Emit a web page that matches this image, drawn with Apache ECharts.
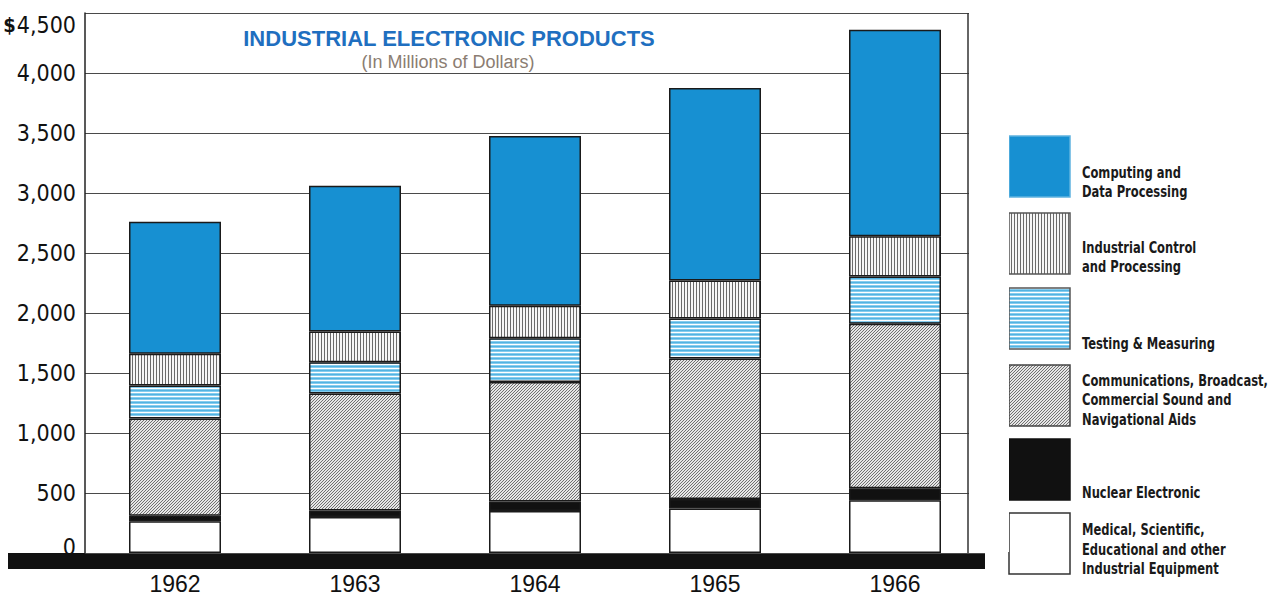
<!DOCTYPE html>
<html><head><meta charset="utf-8">
<script src="https://cdn.jsdelivr.net/npm/echarts@6/dist/echarts.min.js"></script>
<style>html,body{margin:0;padding:0;background:#fff}#c{width:1281px;height:598px}</style>
</head><body><div id="c"></div>
<script>
// ---- data (millions of dollars) ----
const years = ['1962', '1963', '1964', '1965', '1966'];
const medical = [265, 300, 350, 370, 440];
const nuclear = [45, 55, 80, 80, 100];
const communications = [810, 975, 995, 1170, 1370];
const testing = [275, 260, 365, 335, 395];
const industrialControl = [265, 255, 270, 315, 335];
const computing = [1100, 1215, 1415, 1605, 1720];
const yTicks = [0, 500, 1000, 1500, 2000, 2500, 3000, 3500, 4000, 4500];
const legendLabels = {
  computing: 'Computing and\nData Processing',
  industrial: 'Industrial Control\nand Processing',
  testing: 'Testing & Measuring',
  comm: 'Communications, Broadcast,\nCommercial Sound and\nNavigational Aids',
  nuclear: 'Nuclear Electronic',
  medical: 'Medical, Scientific,\nEducational and other\nIndustrial Equipment'
};

// ---- patterns ----
function pat(w, h, bg, pixels) {
  const c = document.createElement('canvas');
  c.width = w; c.height = h;
  const g = c.getContext('2d');
  g.fillStyle = bg; g.fillRect(0, 0, w, h);
  pixels.forEach(p => { g.fillStyle = p[2]; g.fillRect(p[0], p[1], 1, 1); });
  return { image: c, repeat: 'repeat', imageWidth: w, imageHeight: h };
}
const BLUE = '#1790d2';
const pVertical = pat(3, 1, '#f6f6f6', [[0, 0, '#6a6a6a']]);
const pHoriz = pat(1, 4, '#86cdee', [[0, 0, '#ffffff'], [0, 2, '#52b3e2']]);
const pDiag = pat(3, 3, '#e6e6e6', [[2, 0, '#707070'], [1, 1, '#707070'], [0, 2, '#707070']]);

const NARROW = "'DejaVu Sans Condensed','Liberation Sans Narrow',sans-serif";

const segs = [
  { name: 'Medical, Scientific, Educational and other Industrial Equipment', data: medical, color: '#ffffff' },
  { name: 'Nuclear Electronic', data: nuclear, color: '#111111' },
  { name: 'Communications, Broadcast, Commercial Sound and Navigational Aids', data: communications, color: pDiag },
  { name: 'Testing & Measuring', data: testing, color: pHoriz },
  { name: 'Industrial Control and Processing', data: industrialControl, color: pVertical },
  { name: 'Computing and Data Processing', data: computing, color: BLUE }
];

const chart = echarts.init(document.getElementById('c'), null, { renderer: 'svg' });

const option = {
  animation: false,
  backgroundColor: '#ffffff',
  grid: { left: 85, right: 296, top: 13, bottom: 45, containLabel: false, outerBoundsMode: 'none' },
  xAxis: {
    type: 'category', data: years, boundaryGap: true,
    axisLine: { show: false }, axisTick: { show: false }, splitLine: { show: false },
    axisLabel: { fontSize: 23, color: '#111', margin: 19, fontFamily: "'Liberation Sans',Arial,sans-serif" }
  },
  yAxis: {
    type: 'value', min: 0, max: 4500, interval: 500,
    axisLine: { show: true, onZero: false, lineStyle: { color: '#222', width: 1.5 } },
    axisTick: { show: false },
    splitLine: { show: true, lineStyle: { color: '#4a4a4a', width: 1.2 } },
    axisLabel: {
      margin: 9, color: '#111', fontSize: 23, fontFamily: NARROW,
      formatter: v => {
        const s = v === 0 ? '0' : v.toLocaleString('en-US');
        if (v === yTicks[yTicks.length - 1]) return '{dollar|$}{top|' + s + '}';
        if (v === 0) return '{zero|0}';
        return s;
      },
      rich: {
        dollar: { fontSize: 20, fontWeight: 'bold', fontFamily: NARROW, color: '#111', padding: [24, 1, 0, 0] },
        top: { fontSize: 23, fontFamily: NARROW, color: '#111', padding: [24, 0, 0, 0] },
        zero: { fontSize: 23, fontFamily: NARROW, color: '#111', padding: [0, 0, 12, 0] }
      }
    }
  },
  series: segs.map(s => ({
    name: s.name, type: 'bar', stack: 'total', barWidth: 92,
    itemStyle: { color: s.color, borderColor: '#1a1a1a', borderWidth: 1.5 },
    data: s.data
  }))
};
chart.setOption(option);

// ---- decorations: title, frame, baseline bar, legend ----
const y0 = chart.convertToPixel({ yAxisIndex: 0 }, 0);
const yTop = chart.convertToPixel({ yAxisIndex: 0 }, yTicks[yTicks.length - 1]);
const FRAME_RIGHT = 968;

const legendFont = "bold 16px 'DejaVu Sans Condensed','DejaVu Sans',sans-serif";
const mctx = document.createElement('canvas').getContext('2d');
mctx.font = legendFont;
const legendScale = Math.min(1, 186 / mctx.measureText('Communications, Broadcast,').width);

const legendItems = [
  { fill: BLUE, stroke: '#5fb2e0', y: 136, text: legendLabels.computing, ty: 182 },
  { fill: pVertical, stroke: '#555', y: 213, text: legendLabels.industrial, ty: 257 },
  { fill: pHoriz, stroke: '#555', y: 288, text: legendLabels.testing, ty: 343 },
  { fill: pDiag, stroke: '#444', y: 365, text: legendLabels.comm, ty: 399.5 },
  { fill: '#111', stroke: '#111', y: 439, text: legendLabels.nuclear, ty: 492 },
  { fill: '#ffffff', stroke: '#333', y: 513, text: legendLabels.medical, ty: 549 }
];
const graphics = [
  // hide gridline overhang beyond the frame
  { type: 'rect', z: 50, shape: { x: FRAME_RIGHT + 1, y: 0, width: 40, height: y0 - 1 }, style: { fill: '#ffffff' } },
  { type: 'line', z: 51, shape: { x1: FRAME_RIGHT, y1: yTop, x2: FRAME_RIGHT, y2: y0 }, style: { stroke: '#333', lineWidth: 1.5 } },
  { type: 'rect', z: -1, shape: { x: 8, y: y0, width: 977, height: 16 }, style: { fill: '#111' } },
  { type: 'text', style: { text: 'INDUSTRIAL ELECTRONIC PRODUCTS', x: 449, y: 38, align: 'center', verticalAlign: 'middle',
      font: "bold 22px 'Liberation Sans',Arial,sans-serif", fill: '#1f6fc0' } },
  { type: 'text', style: { text: '(In Millions of Dollars)', x: 448, y: 62, align: 'center', verticalAlign: 'middle',
      font: "18px 'Liberation Sans',Arial,sans-serif", fill: '#8b7d72' } }
];
legendItems.forEach(it => {
  graphics.push({ type: 'rect', shape: { x: 1009, y: it.y, width: 61, height: 61 },
    style: { fill: it.fill, stroke: it.stroke, lineWidth: 1.5 } });
  graphics.push({ type: 'text', x: 1082, y: it.ty, scaleX: legendScale,
    style: { text: it.text, x: 0, y: 0, align: 'left', verticalAlign: 'middle',
      font: legendFont, fill: '#1a1a1a', lineHeight: 19.5 } });
});
chart.setOption({ graphic: graphics });
</script></body></html>
